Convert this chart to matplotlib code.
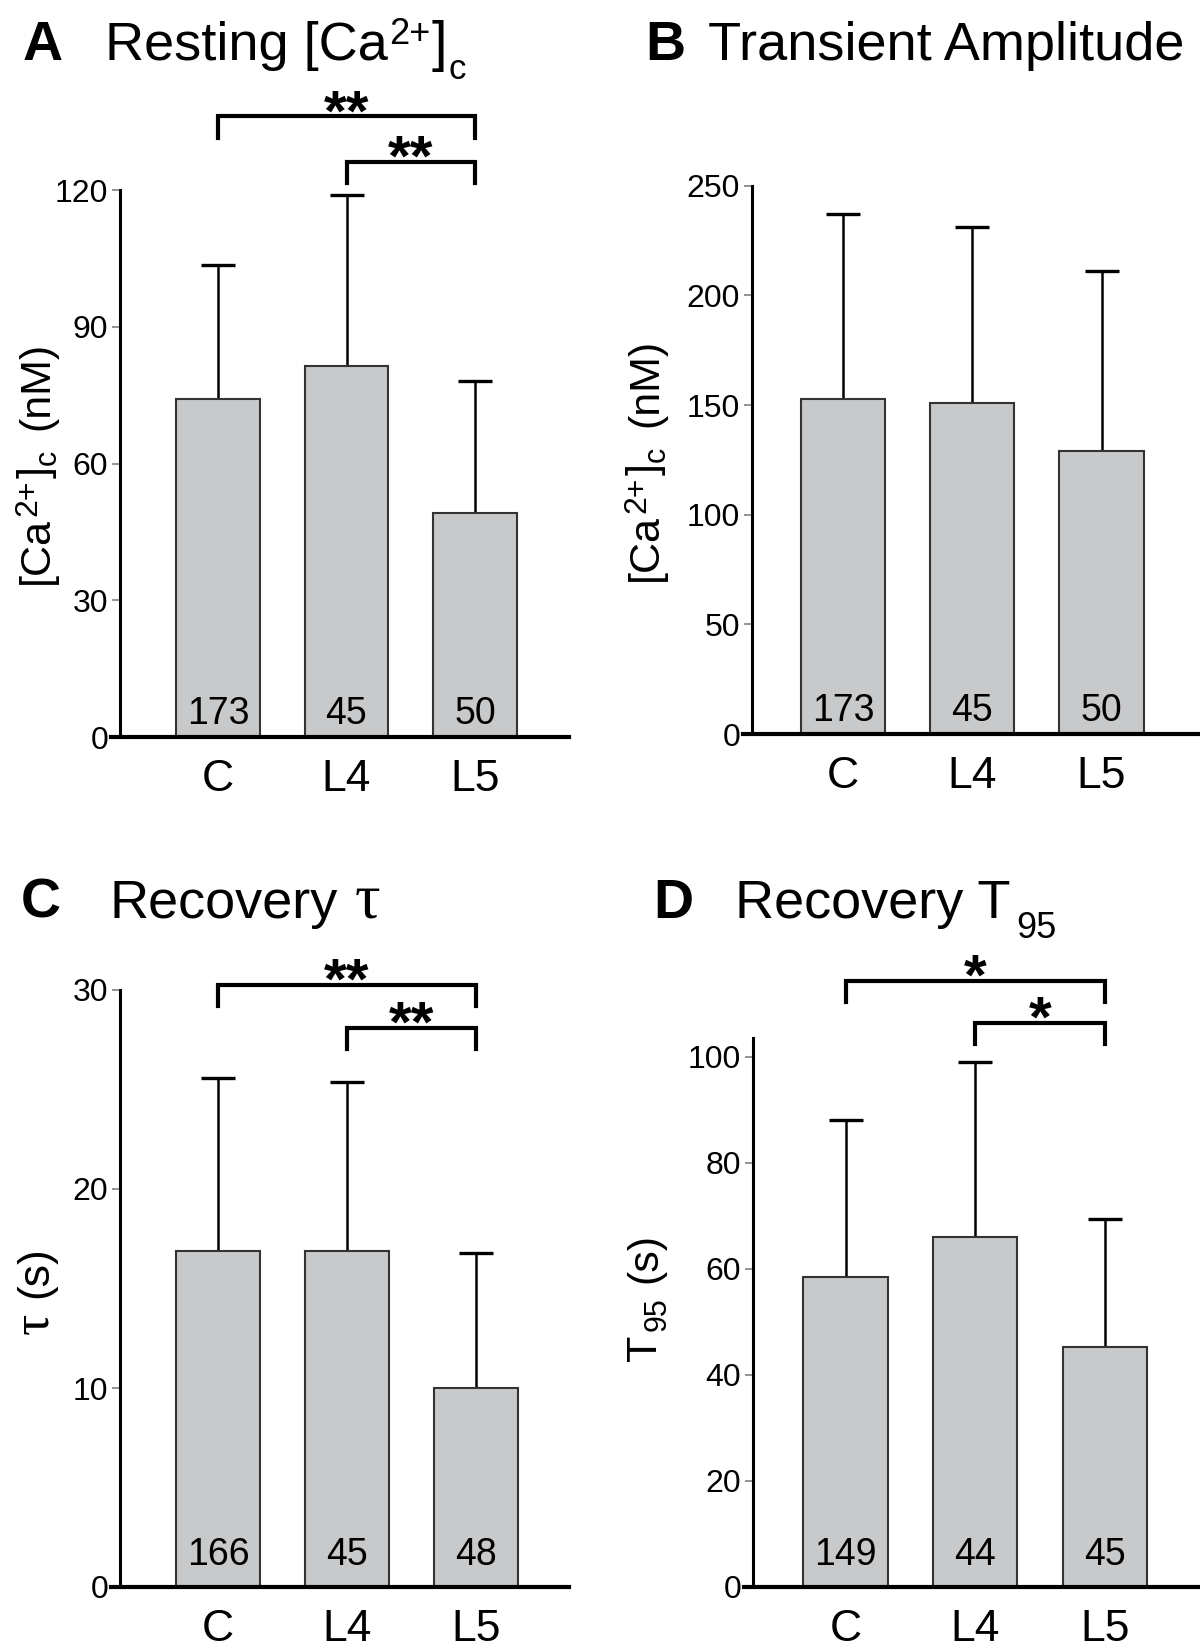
import matplotlib
matplotlib.use('Agg')
import matplotlib.pyplot as plt
from matplotlib import rc
from matplotlib.transforms import IdentityTransform

rc('mathtext', default='regular')
plt.rcParams['font.family'] = ['Liberation Sans', 'DejaVu Sans']

groups = ['C', 'L4', 'L5']

rest_mean = [74.1, 81.4, 49.2]
rest_sd = [29.6, 37.5, 29.0]
rest_n = [173, 45, 50]
rest_sig = [(0, 2, 136.2, '**'), (1, 2, 126.3, '**')]

amp_mean = [152.6, 150.8, 129.0]
amp_sd = [84.7, 80.5, 82.0]
amp_n = [173, 45, 50]
amp_sig = []

tau_mean = [16.9, 16.9, 10.0]
tau_sd = [8.7, 8.5, 6.8]
tau_n = [166, 45, 48]
tau_sig = [(0, 2, 30.25, '**'), (1, 2, 28.1, '**')]

t95_mean = [58.5, 66.1, 45.3]
t95_sd = [29.6, 33.0, 24.1]
t95_n = [149, 44, 45]
t95_sig = [(0, 2, 114.4, '*'), (1, 2, 106.4, '*')]

W, H = 1200, 1652
fig = plt.figure(figsize=(W / 100, H / 100), dpi=100)
renderer = fig.canvas.get_renderer()

bar_color = '#c8c9cb'


def panel(mean, sd, n, sig, lay):
    # lay: pixel geometry of the panel
    left, yax, right, c0, c2, zero, ppu, top, ytop, ticks, noff, leg = lay
    sp = (c2 - c0) / 2
    ax = fig.add_axes([left / W, 1 - zero / H, (right - left) / W, (zero - top) / H])
    ax.set_xlim((left - c0) / sp, 2 + (right - c2) / sp)
    ax.set_ylim(0, (zero - top) / ppu)
    x = range(len(groups))
    ax.bar(x, mean, width=0.65, color=bar_color, edgecolor='#333333', linewidth=1.5, zorder=2)
    eb = ax.errorbar(x, mean, yerr=[[0] * 3, sd], fmt='none', ecolor='black',
                     elinewidth=1.8, capsize=12, capthick=2.4, zorder=1)
    eb[1][0].set_visible(False)
    for i, v in enumerate(n):
        ax.annotate(str(v), xy=(i, 0), xytext=(0, noff), textcoords='offset points',
                    ha='center', va='baseline', fontsize=27)
    for a, b, y, s in sig:
        ax.plot([a, a, b, b], [y - leg, y, y, y - leg], color='black', lw=3,
                clip_on=False, solid_joinstyle='miter')
        ax.annotate(s, xy=((a + b) / 2, y), xytext=(0, -10), textcoords='offset points',
                    ha='center', va='baseline', fontsize=42, fontweight='bold',
                    annotation_clip=False)
    for s in ['top', 'right']:
        ax.spines[s].set_visible(False)
    ax.spines['left'].set_position(('data', (yax - c0) / sp))
    ax.spines['left'].set_bounds(0, ytop)
    ax.spines['left'].set_linewidth(2.2)
    ax.spines['bottom'].set_linewidth(3)
    ax.set_yticks(ticks)
    ax.set_xticks(list(x))
    ax.set_xticklabels(groups)
    ax.tick_params(axis='y', direction='out', length=6, width=1.2, color='#808080',
                   labelsize=23, pad=2.5)
    ax.tick_params(axis='x', length=0, labelsize=32, pad=16)
    ax.patch.set_visible(False)
    return ax


panel(rest_mean, rest_sd, rest_n, rest_sig,
      (111, 120, 569, 218, 475, 737, 4.556, 76, 120, [0, 30, 60, 90, 120], 9.5, 4.7))
panel(amp_mean, amp_sd, amp_n, amp_sig,
      (743, 752, 1198, 843, 1101.5, 734, 2.193, 180, 250, [0, 50, 100, 150, 200, 250], 9.5, 0))
panel(tau_mean, tau_sd, tau_n, tau_sig,
      (111, 120, 569, 218, 475.7, 1587, 19.9, 960, 30, [0, 10, 20, 30], 16, 1.06))
panel(t95_mean, t95_sd, t95_n, t95_sig,
      (744, 753, 1200, 845.5, 1104.7, 1587, 5.3, 960, 103.5, [0, 20, 40, 60, 80, 100], 16, 4.0))


def pieces(x, y, parts, rot=0, center=False, **kw):
    # parts: (text, size, shift down px, gap before px, family)
    X, Y = x, H - y
    texts, advs = [], []
    for s, size, dy, gap, fam in parts:
        t = fig.text(0, 0, s, fontsize=size, rotation=rot, rotation_mode='anchor',
                     ha='left', va='baseline', transform=IdentityTransform(),
                     family=fam or ['Liberation Sans', 'DejaVu Sans'], **kw)
        bb = t.get_window_extent(renderer)
        texts.append((t, dy, gap))
        advs.append(bb.width if rot == 0 else bb.height)
    total = sum(advs) + sum(g for _, _, g in texts)
    pos = -total / 2 if center else 0
    for (t, dy, gap), w in zip(texts, advs):
        pos += gap
        if rot == 0:
            t.set_position((X + pos, Y - dy))
        else:
            t.set_position((X + dy, Y + pos))
        pos += w


# panel letters and titles
for lx, ly, s in [(23, 60, 'A'), (645, 60, 'B'), (21, 918, 'C'), (653, 918, 'D')]:
    pieces(lx, ly, [(s, 40, 0, 0, None)], fontweight='bold')
pieces(105, 60, [('Resting [Ca', 39, 0, 0, None), ('2+', 26, -16, 1, None),
                 (']', 40, 0, 1, None), ('c', 25, 19, 2, None)])
pieces(708, 60, [('Transient Amplitude', 39, 0, 0, None)])
pieces(110, 918, [('Recovery', 39, 0, 0, None), ('τ', 46, 0, 16, 'Liberation Serif')])
pieces(735, 918, [('Recovery T', 39, 0, 0, None), ('95', 26, 20, 6, None)])

# y labels
ca_label = [('[Ca', 31, 0, 0, None), ('2+', 23, -12, 1, None), (']', 31, 0, 1, None),
            ('c', 22, 8, 1, None), ('(nM)', 31, 0, 20, None)]
pieces(48, 463, ca_label, rot=90, center=True)
pieces(657, 460, ca_label, rot=90, center=True)
pieces(47, 1290, [('τ', 38, 0, 0, 'Liberation Serif'), ('(s)', 32, 0, 14, None)],
       rot=90, center=True)
pieces(656, 1297, [('T', 31, 0, 0, None), ('95', 22, 10, 3, None), ('(s)', 31, 0, 14, None)],
       rot=90, center=True)

fig.savefig('out.png', dpi=100)
